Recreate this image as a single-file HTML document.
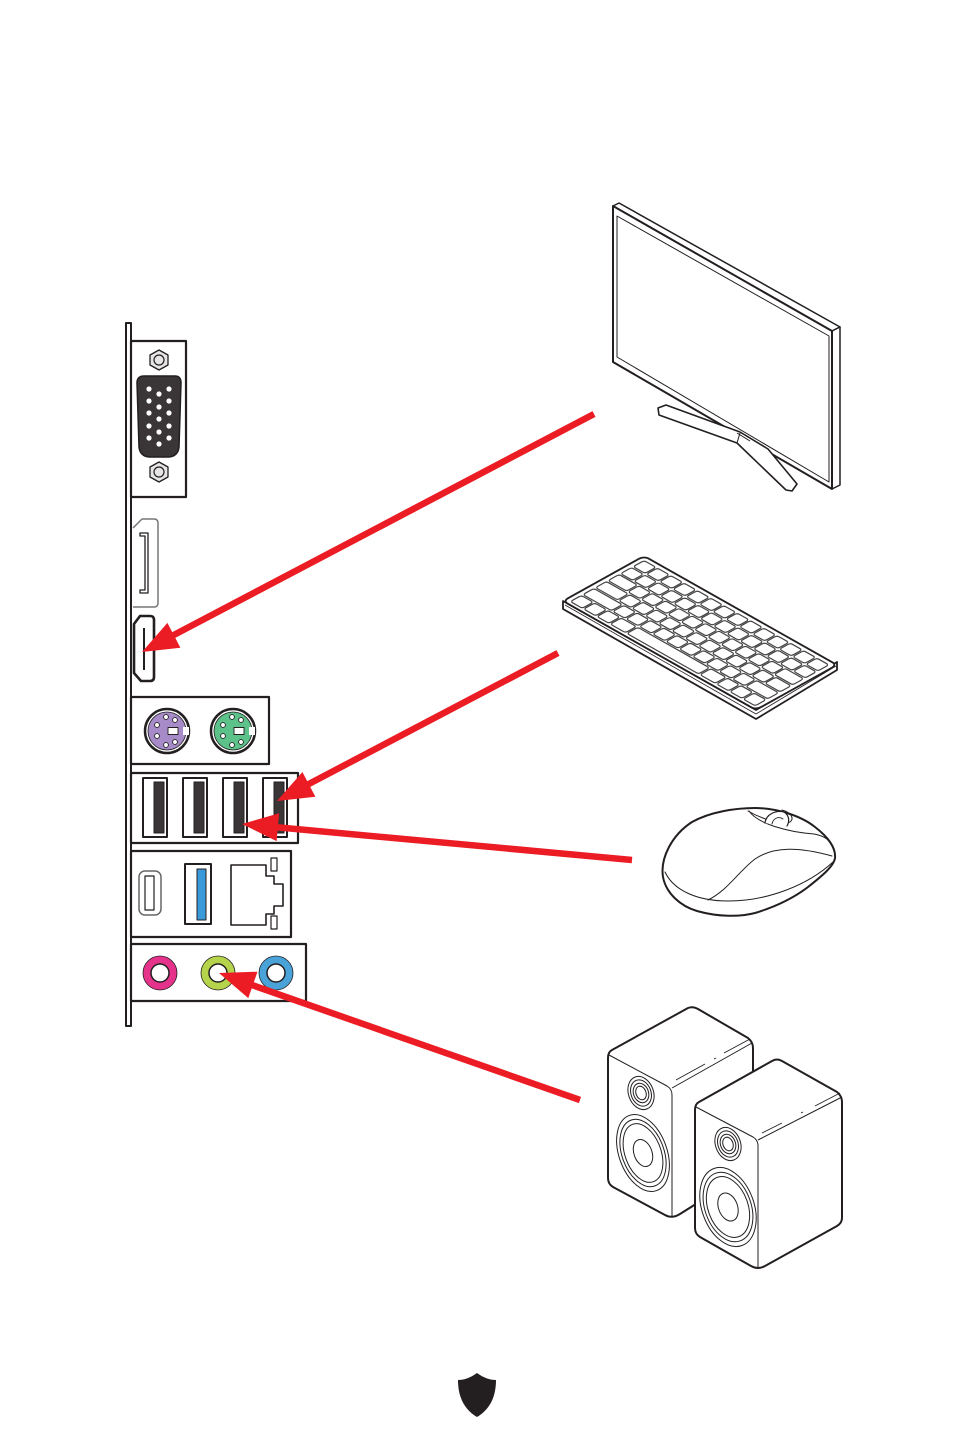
<!DOCTYPE html>
<html><head><meta charset="utf-8"><style>html,body{margin:0;padding:0;background:#fff}svg{display:block}</style></head>
<body>
<svg width="954" height="1431" viewBox="0 0 954 1431" xmlns="http://www.w3.org/2000/svg">
<rect width="954" height="1431" fill="#fff"/>
<g stroke="#231f20" fill="#fff" stroke-linejoin="round">
<!-- panel bar -->
<rect x="126" y="323" width="5" height="703" stroke-width="2"/>
<!-- VGA -->
<rect x="131" y="341" width="55" height="156" stroke-width="2.2"/>
<polygon points="159,350 168,355 168,365 159,370 150,365 150,355" fill="#e6e6e6" stroke-width="1.3"/>
<circle cx="159" cy="360" r="5" fill="#e6e6e6" stroke-width="1.2"/>
<polygon points="159,462 168,467 168,477 159,482 150,477 150,467" fill="#e6e6e6" stroke-width="1.3"/>
<circle cx="159" cy="472" r="5" fill="#e6e6e6" stroke-width="1.2"/>
<path d="M144,376 L175,376 Q181,376 181,383 L179,447 Q178,456 169,457 L149,457 Q140,456 139,447 L137,383 Q137,376 144,376 Z" fill="#3a3536" stroke-width="1.5"/>
<g fill="#fff" stroke="none">
<circle cx="149" cy="389" r="2.6"/><circle cx="149" cy="401" r="2.6"/><circle cx="149" cy="413" r="2.6"/><circle cx="149" cy="426" r="2.6"/><circle cx="149" cy="438" r="2.6"/>
<circle cx="159" cy="394" r="2.6"/><circle cx="159" cy="407" r="2.6"/><circle cx="159" cy="419" r="2.6"/><circle cx="159" cy="432" r="2.6"/><circle cx="159" cy="444" r="2.6"/>
<circle cx="169" cy="389" r="2.6"/><circle cx="169" cy="401" r="2.6"/><circle cx="169" cy="413" r="2.6"/><circle cx="169" cy="426" r="2.6"/><circle cx="169" cy="438" r="2.6"/>
</g>
<!-- DisplayPort -->
<path d="M133,528 L142,519 L154,519 Q158,519 158,523 L158,603 Q158,607 154,607 L133,607" stroke="#777" stroke-width="1.5"/>
<path d="M140,533 L148,533 L148,593 L140,593 L140,590 L145,590 L145,536 L140,536 Z" fill="#fff" stroke-width="1.3"/>
<!-- HDMI -->
<path d="M140,616 L150,616 Q154,616 154,620 L154,677 Q154,681 150,681 L141,681 L134,673 L134,624 Z" stroke-width="2.6"/>
<line x1="144" y1="628" x2="144" y2="670" stroke-width="2"/>
<!-- PS/2 -->
<rect x="131" y="697" width="138" height="67" stroke-width="2.2"/>
<circle cx="167" cy="731" r="22" stroke-width="2.5"/>
<circle cx="167" cy="731" r="19" fill="#a68bc8" stroke-width="0.8"/>
<rect x="183" y="727" width="6" height="8" fill="#fff" stroke="none"/>
<circle cx="233" cy="731" r="22" stroke-width="2.5"/>
<circle cx="233" cy="731" r="19" fill="#5cc28a" stroke-width="0.8"/>
<rect x="249" y="727" width="6" height="8" fill="#fff" stroke="none"/>
<g stroke-width="0.9">
<circle cx="166" cy="717" r="2.4"/><circle cx="175" cy="720" r="2.4"/><circle cx="157" cy="725" r="2.4"/><circle cx="157" cy="736" r="2.4"/><circle cx="166" cy="745" r="2.4"/><circle cx="175" cy="742" r="2.4"/>
<rect x="168" y="727.5" width="10" height="7"/>
<circle cx="232" cy="717" r="2.4"/><circle cx="241" cy="720" r="2.4"/><circle cx="223" cy="725" r="2.4"/><circle cx="223" cy="736" r="2.4"/><circle cx="232" cy="745" r="2.4"/><circle cx="241" cy="742" r="2.4"/>
<rect x="234" y="727.5" width="10" height="7"/>
</g>
<!-- USB -->
<rect x="131" y="773" width="167" height="70" stroke-width="2.2"/>
<rect x="143" y="778" width="24" height="59" stroke-width="2"/>
<rect x="154" y="782" width="10" height="51" fill="#3a3536" stroke-width="1"/>
<rect x="183" y="778" width="24" height="59" stroke-width="2"/>
<rect x="194" y="782" width="10" height="51" fill="#3a3536" stroke-width="1"/>
<rect x="223" y="778" width="24" height="59" stroke-width="2"/>
<rect x="234" y="782" width="10" height="51" fill="#3a3536" stroke-width="1"/>
<rect x="263" y="778" width="24" height="59" stroke-width="2"/>
<rect x="274" y="782" width="10" height="51" fill="#3a3536" stroke-width="1"/>
<!-- LAN box -->
<rect x="131" y="851" width="160" height="86" stroke-width="2.2"/>
<rect x="139" y="871" width="22" height="44" rx="6" stroke="#666" stroke-width="1.5"/>
<rect x="145" y="876" width="9" height="34" stroke-width="1.2"/>
<rect x="185" y="864" width="26" height="60" stroke-width="2"/>
<rect x="197" y="869" width="9" height="51" fill="#3a9ad9" stroke-width="1"/>
<path d="M231,865 L266,865 L266,876 L274,876 L274,884 L283,884 L283,906 L274,906 L274,914 L266,914 L266,925 L231,925 Z" stroke-width="1.6"/>
<rect x="271" y="858" width="6" height="13" stroke-width="1.2"/>
<rect x="271" y="916" width="6" height="13" stroke-width="1.2"/>
<!-- Audio -->
<rect x="131" y="944" width="175" height="57" stroke-width="2.2"/>
<circle cx="160" cy="973" r="17" fill="#e5338b" stroke-width="0.8"/>
<circle cx="160" cy="973" r="9" stroke-width="1.5"/>
<circle cx="218" cy="973" r="17" fill="#b5d34b" stroke-width="0.8"/>
<circle cx="218" cy="973" r="9" stroke-width="1.5"/>
<circle cx="276" cy="973" r="17" fill="#4aa3d8" stroke-width="0.8"/>
<circle cx="276" cy="973" r="9" stroke-width="1.5"/>
</g>

<!-- Monitor -->
<g stroke="#231f20" fill="#fff" stroke-linejoin="round">
<path d="M613,206 L619,203 L840,327 L832,331 Z" stroke-width="1.5"/>
<path d="M832,331 L840,327 L840,485 L832,489 Z" stroke-width="1.5"/>
<path d="M613,206 L832,331 L832,489 L613,362 Z" stroke-width="2"/>
<path d="M617,216 L829,336 L829,482 L617,357 Z" stroke-width="1"/>
<path d="M658,408 L666,405 L740,432 L768,449 L797,484 L792,491 L786,490 L737,443 L659,415 Z" stroke-width="1.6"/>
<line x1="737" y1="443" x2="740" y2="433" stroke-width="1"/>
<line x1="737" y1="433" x2="750" y2="441" stroke-width="1"/>
</g>

<!-- Keyboard -->
<g stroke="#231f20" fill="#fff" stroke-linejoin="round">
<path d="M563,601 L756,710 L837,662 L837,670 L756,719 L563,609 Z" stroke-width="1.8"/>
<line x1="565" y1="605" x2="756" y2="714" stroke-width="0.8"/>
<line x1="756" y1="714" x2="836" y2="666" stroke-width="0.8"/>
<g transform="matrix(0.689,0.389,0.81,-0.45,563,601)">
<rect x="0" y="0" width="280" height="100" rx="6" stroke-width="1.8" vector-effect="non-scaling-stroke"/>
<g stroke="#444" stroke-width="1.2" fill="#fff">
<!-- row0 -->
<g transform="translate(0,4)">
<rect x="6" width="17.3" height="13.5" rx="3" vector-effect="non-scaling-stroke"/><rect x="25.3" width="17.3" height="13.5" rx="3" vector-effect="non-scaling-stroke"/><rect x="44.6" width="17.3" height="13.5" rx="3" vector-effect="non-scaling-stroke"/><rect x="63.9" width="22.1" height="13.5" rx="3" vector-effect="non-scaling-stroke"/><rect x="88" width="104.1" height="13.5" rx="3" vector-effect="non-scaling-stroke"/><rect x="194.1" width="22.1" height="13.5" rx="3" vector-effect="non-scaling-stroke"/><rect x="218.2" width="17.3" height="13.5" rx="3" vector-effect="non-scaling-stroke"/><rect x="237.5" width="17.3" height="13.5" rx="3" vector-effect="non-scaling-stroke"/><rect x="256.8" width="17.3" height="13.5" rx="3" vector-effect="non-scaling-stroke"/>
</g>
<!-- row1 -->
<g transform="translate(0,19.5)">
<rect x="6" width="41.4" height="13.5" rx="3" vector-effect="non-scaling-stroke"/><rect x="49.4" width="17.3" height="13.5" rx="3" vector-effect="non-scaling-stroke"/><rect x="68.7" width="17.3" height="13.5" rx="3" vector-effect="non-scaling-stroke"/><rect x="88" width="17.3" height="13.5" rx="3" vector-effect="non-scaling-stroke"/><rect x="107.3" width="17.3" height="13.5" rx="3" vector-effect="non-scaling-stroke"/><rect x="126.6" width="17.3" height="13.5" rx="3" vector-effect="non-scaling-stroke"/><rect x="145.9" width="17.3" height="13.5" rx="3" vector-effect="non-scaling-stroke"/><rect x="165.2" width="17.3" height="13.5" rx="3" vector-effect="non-scaling-stroke"/><rect x="184.5" width="17.3" height="13.5" rx="3" vector-effect="non-scaling-stroke"/><rect x="203.8" width="17.3" height="13.5" rx="3" vector-effect="non-scaling-stroke"/><rect x="223.1" width="17.3" height="13.5" rx="3" vector-effect="non-scaling-stroke"/><rect x="242.3" width="31.8" height="13.5" rx="3" vector-effect="non-scaling-stroke"/>
</g>
<!-- row2 -->
<g transform="translate(0,35)">
<rect x="6" width="31.8" height="13.5" rx="3" vector-effect="non-scaling-stroke"/><rect x="39.8" width="17.3" height="13.5" rx="3" vector-effect="non-scaling-stroke"/><rect x="59.1" width="17.3" height="13.5" rx="3" vector-effect="non-scaling-stroke"/><rect x="78.4" width="17.3" height="13.5" rx="3" vector-effect="non-scaling-stroke"/><rect x="97.7" width="17.3" height="13.5" rx="3" vector-effect="non-scaling-stroke"/><rect x="117" width="17.3" height="13.5" rx="3" vector-effect="non-scaling-stroke"/><rect x="136.3" width="17.3" height="13.5" rx="3" vector-effect="non-scaling-stroke"/><rect x="155.6" width="17.3" height="13.5" rx="3" vector-effect="non-scaling-stroke"/><rect x="174.9" width="17.3" height="13.5" rx="3" vector-effect="non-scaling-stroke"/><rect x="194.2" width="17.3" height="13.5" rx="3" vector-effect="non-scaling-stroke"/><rect x="213.5" width="17.3" height="13.5" rx="3" vector-effect="non-scaling-stroke"/><rect x="232.8" width="17.3" height="13.5" rx="3" vector-effect="non-scaling-stroke"/><rect x="251.9" width="22.1" height="13.5" rx="3" vector-effect="non-scaling-stroke"/>
</g>
<!-- row3 -->
<g transform="translate(0,50.5)">
<rect x="6" width="26.9" height="13.5" rx="3" vector-effect="non-scaling-stroke"/><rect x="34.9" width="17.3" height="13.5" rx="3" vector-effect="non-scaling-stroke"/><rect x="54.2" width="17.3" height="13.5" rx="3" vector-effect="non-scaling-stroke"/><rect x="73.5" width="17.3" height="13.5" rx="3" vector-effect="non-scaling-stroke"/><rect x="92.8" width="17.3" height="13.5" rx="3" vector-effect="non-scaling-stroke"/><rect x="112.1" width="17.3" height="13.5" rx="3" vector-effect="non-scaling-stroke"/><rect x="131.4" width="17.3" height="13.5" rx="3" vector-effect="non-scaling-stroke"/><rect x="150.7" width="17.3" height="13.5" rx="3" vector-effect="non-scaling-stroke"/><rect x="170" width="17.3" height="13.5" rx="3" vector-effect="non-scaling-stroke"/><rect x="189.3" width="17.3" height="13.5" rx="3" vector-effect="non-scaling-stroke"/><rect x="208.6" width="17.3" height="13.5" rx="3" vector-effect="non-scaling-stroke"/><rect x="227.9" width="17.3" height="13.5" rx="3" vector-effect="non-scaling-stroke"/><rect x="247.1" width="26.9" height="13.5" rx="3" vector-effect="non-scaling-stroke"/>
</g>
<!-- row4 -->
<g transform="translate(0,66)">
<rect x="6" width="17.3" height="13.5" rx="3" vector-effect="non-scaling-stroke"/><rect x="25.3" width="17.3" height="13.5" rx="3" vector-effect="non-scaling-stroke"/><rect x="44.6" width="17.3" height="13.5" rx="3" vector-effect="non-scaling-stroke"/><rect x="63.9" width="17.3" height="13.5" rx="3" vector-effect="non-scaling-stroke"/><rect x="83.2" width="17.3" height="13.5" rx="3" vector-effect="non-scaling-stroke"/><rect x="102.5" width="17.3" height="13.5" rx="3" vector-effect="non-scaling-stroke"/><rect x="121.7" width="17.3" height="13.5" rx="3" vector-effect="non-scaling-stroke"/><rect x="141" width="17.3" height="13.5" rx="3" vector-effect="non-scaling-stroke"/><rect x="160.3" width="17.3" height="13.5" rx="3" vector-effect="non-scaling-stroke"/><rect x="179.6" width="17.3" height="13.5" rx="3" vector-effect="non-scaling-stroke"/><rect x="198.9" width="17.3" height="13.5" rx="3" vector-effect="non-scaling-stroke"/><rect x="218.2" width="17.3" height="13.5" rx="3" vector-effect="non-scaling-stroke"/><rect x="237.5" width="17.3" height="13.5" rx="3" vector-effect="non-scaling-stroke"/><rect x="256.8" width="17.3" height="13.5" rx="3" vector-effect="non-scaling-stroke"/>
</g>
<!-- row5 -->
<g transform="translate(0,81.5)">
<rect x="6" width="17.3" height="13.5" rx="3" vector-effect="non-scaling-stroke"/><rect x="25.3" width="17.3" height="13.5" rx="3" vector-effect="non-scaling-stroke"/><rect x="44.6" width="17.3" height="13.5" rx="3" vector-effect="non-scaling-stroke"/><rect x="63.9" width="17.3" height="13.5" rx="3" vector-effect="non-scaling-stroke"/><rect x="83.2" width="17.3" height="13.5" rx="3" vector-effect="non-scaling-stroke"/><rect x="102.5" width="17.3" height="13.5" rx="3" vector-effect="non-scaling-stroke"/><rect x="121.7" width="17.3" height="13.5" rx="3" vector-effect="non-scaling-stroke"/><rect x="141" width="17.3" height="13.5" rx="3" vector-effect="non-scaling-stroke"/><rect x="160.3" width="17.3" height="13.5" rx="3" vector-effect="non-scaling-stroke"/><rect x="179.6" width="17.3" height="13.5" rx="3" vector-effect="non-scaling-stroke"/><rect x="198.9" width="17.3" height="13.5" rx="3" vector-effect="non-scaling-stroke"/><rect x="218.2" width="17.3" height="13.5" rx="3" vector-effect="non-scaling-stroke"/><rect x="237.5" width="17.3" height="13.5" rx="3" vector-effect="non-scaling-stroke"/><rect x="256.8" width="17.3" height="13.5" rx="3" vector-effect="non-scaling-stroke"/>
</g>
</g>
</g>
</g>

<!-- Mouse -->
<g stroke="#231f20" fill="#fff" stroke-linejoin="round" stroke-linecap="round">
<path d="M663,877 C660,858 672,835 692,822 C710,812 735,808 755,808 C775,808 800,815 815,827 C828,837 836,848 835,858 C834,866 822,876 808,887 C795,897 778,906 755,913 C740,917 718,917 697,911 C680,906 666,893 663,877 Z" stroke-width="2"/>
<path d="M665,872 C674,891 698,901 728,901 C768,901 808,885 833,862" stroke-width="1" fill="none"/>
<path d="M708,900 C728,890 738,872 755,859 C774,846 800,847 832,856" stroke-width="1" fill="none"/>
<path d="M749,811 C758,824 788,832 814,834 C826,836 832,842 834,850" stroke-width="1" fill="none"/>
<path d="M748,811 C760,818 780,825 790,822 C795,818 790,812 782,810" stroke-width="1" fill="none"/>
<path d="M765,823 C766,814 776,810 784,812 C789,815 790,821 787,826" stroke-width="1.2" fill="#fff"/>
<path d="M772,824 C773,818 779,816 783,819" stroke-width="0.9" fill="none"/>
</g>

<!-- Speakers -->
<g stroke="#231f20" fill="#fff" stroke-linejoin="round">
<path d="M612,1050 L688,1008 Q693,1006 698,1009 L748,1038 Q753,1042 753,1048 L753,1168 L680,1214 Q672,1219 665,1215 L613,1187 Q608,1184 608,1178 L608,1058 Q608,1052 612,1050 Z" stroke-width="2"/>
<path d="M609,1055 L667,1086 Q672,1089 672,1095 L672,1217" fill="none" stroke-width="1"/>
<line x1="672" y1="1088" x2="752" y2="1043" stroke-width="1"/>
<path d="M676,1080 L705,1064 M714,1059 L716,1058 M724,1053 L750,1039" stroke-width="0.9" fill="none"/>
<g fill="none" stroke-width="1">
<ellipse cx="641" cy="1093" rx="12.5" ry="17" transform="rotate(-20 641 1093)"/>
<ellipse cx="641" cy="1093" rx="10" ry="13.5" transform="rotate(-20 641 1093)"/>
<ellipse cx="641" cy="1093" rx="7.5" ry="10" transform="rotate(-20 641 1093)"/>
<ellipse cx="641" cy="1093" rx="5" ry="7" transform="rotate(-20 641 1093)"/>
<ellipse cx="643" cy="1153" rx="24" ry="40" transform="rotate(-20 643 1153)"/>
<ellipse cx="643" cy="1153" rx="21" ry="35" transform="rotate(-20 643 1153)"/>
<ellipse cx="643" cy="1153" rx="18" ry="30.5" transform="rotate(-20 643 1153)"/>
<ellipse cx="643" cy="1153" rx="9" ry="14" transform="rotate(-20 643 1153)"/>
</g>
<path d="M699,1102 L772,1061 Q777,1058 782,1061 L837,1092 Q842,1096 842,1102 L842,1218 Q842,1223 837,1226 L765,1266 Q758,1270 751,1266 L700,1237 Q695,1234 695,1228 L695,1110 Q695,1104 699,1102 Z" stroke-width="2"/>
<path d="M696,1107 L753,1137 Q758,1140 758,1146 L758,1267" fill="none" stroke-width="1"/>
<line x1="758" y1="1140" x2="842" y2="1097" stroke-width="1"/>
<path d="M762,1133 L782,1123 M801,1113 L803,1112 M815,1106 L840,1093" stroke-width="0.9" fill="none"/>
<g fill="none" stroke-width="1">
<ellipse cx="728" cy="1144" rx="12.5" ry="17" transform="rotate(-20 728 1144)"/>
<ellipse cx="728" cy="1144" rx="10" ry="13.5" transform="rotate(-20 728 1144)"/>
<ellipse cx="728" cy="1144" rx="7.5" ry="10" transform="rotate(-20 728 1144)"/>
<ellipse cx="728" cy="1144" rx="5" ry="7" transform="rotate(-20 728 1144)"/>
<ellipse cx="728" cy="1207" rx="26" ry="41" transform="rotate(-20 728 1207)"/>
<ellipse cx="728" cy="1207" rx="23" ry="36" transform="rotate(-20 728 1207)"/>
<ellipse cx="728" cy="1207" rx="20" ry="31.5" transform="rotate(-20 728 1207)"/>
<ellipse cx="728" cy="1207" rx="9.5" ry="14.5" transform="rotate(-20 728 1207)"/>
</g>
</g>

<!-- Red arrows -->
<g stroke="#ec1c24" stroke-width="6.5" fill="none">
<line x1="594" y1="414" x2="170" y2="637"/>
<line x1="558" y1="653" x2="305" y2="786"/>
<line x1="632" y1="860" x2="274" y2="827"/>
<line x1="580" y1="1100" x2="249" y2="984"/>
</g>
<g fill="#ec1c24" stroke="none">
<polygon points="142,652 167.4,622.9 180.4,647.7"/>
<polygon points="277,801 302.4,772 315.4,796.8"/>
<polygon points="242,824 279.2,813.3 276.6,841.1"/>
<polygon points="219,973 257.5,971.7 248.3,998.1"/>
</g>

<!-- Shield logo -->
<path d="M477,1373 C470,1378 464,1380 458,1380 C458,1398 465,1410 477,1417 C489,1410 496,1398 496,1380 C490,1380 484,1378 477,1373 Z" fill="#231f20"/>
</svg>
</body></html>
